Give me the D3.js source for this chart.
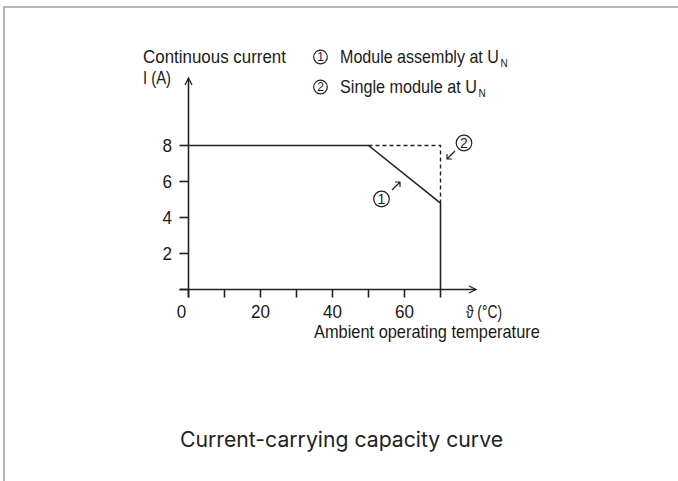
<!DOCTYPE html>
<html><head><meta charset="utf-8">
<script src="https://cdn.jsdelivr.net/npm/d3@7"></script>
<style>
html,body{margin:0;padding:0;background:#fff;}
svg{display:block;}
</style></head>
<body>
<svg id="c" width="678" height="481"></svg>
<script>
// Data
const xTicks = [0, 10, 20, 30, 40, 50, 60, 70];
const xTickLabels = [0, 20, 40, 60];
const yTicks = [0, 2, 4, 6, 8];
const yTickLabels = [2, 4, 6, 8];
const curve1Temp = [0, 50, 70, 70];       // module assembly
const curve1Current = [8, 8, 4.8, 0];
const curve2Temp = [50, 70, 70];          // single module (dashed)
const curve2Current = [8, 8, 4.8];
const legendItems = ["Module assembly at U", "Single module at U"];

const svg = d3.select("#c");
const condensed = "'Liberation Sans', Arial, sans-serif";

// frame border
svg.append("path").attr("d","M4,481 L4,7 L678,7").attr("fill","none").attr("stroke","#b3b6b9").attr("stroke-width",2);

const x = d3.scaleLinear().domain([0,70]).range([188.5,440.5]);
const y = d3.scaleLinear().domain([0,8]).range([289.5,145.5]);

const g = svg.append("g").attr("stroke","#222").attr("fill","none").attr("stroke-width",1.6);

// y axis
g.append("line").attr("x1",x(0)).attr("x2",x(0)).attr("y1",y(0)+8).attr("y2",79);
g.append("path").attr("d",`M${x(0)-3.5},85 L${x(0)},78 L${x(0)+3.5},85`).attr("stroke-width",1.3);
// x axis
g.append("line").attr("x1",x(0)-9).attr("x2",476).attr("y1",y(0)).attr("y2",y(0));
g.append("path").attr("d",`M469,${y(0)-3.5} L476,${y(0)} L469,${y(0)+3.5}`).attr("stroke-width",1.3);

// ticks
g.selectAll(".xt").data(xTicks).enter().append("line")
  .attr("x1",d=>x(d)).attr("x2",d=>x(d)).attr("y1",y(0)).attr("y2",y(0)+8);
g.selectAll(".yt").data(yTicks).enter().append("line")
  .attr("x1",x(0)-9).attr("x2",x(0)).attr("y1",d=>y(d)).attr("y2",d=>y(d));

// curves
const line = d3.line().x(d=>x(d[0])).y(d=>y(d[1]));
g.append("path").datum(curve2Temp.map((t,i)=>[t,curve2Current[i]]))
  .attr("d",line).attr("stroke-dasharray","4,3").attr("stroke-width",1.4);
g.append("path").datum(curve1Temp.map((t,i)=>[t,curve1Current[i]]))
  .attr("d",line);

// annotation arrows
g.append("path").attr("d","M392,190 L400,182 M395,182 L400,182 L400,187").attr("stroke-width",1.2);
g.append("path").attr("d","M455,151 L447,159 M447,154 L447,159 L452,159").attr("stroke-width",1.2);

// circled-number markers (drawn as circle + digit)
function circled(cx, cy, n, r, fs){
  svg.append("circle").attr("cx",cx).attr("cy",cy).attr("r",r)
    .attr("fill","none").attr("stroke","#222").attr("stroke-width",1.2);
  svg.append("text").attr("x",cx).attr("y",cy+fs*0.36).attr("text-anchor","middle")
    .attr("font-family","'Liberation Sans', Arial, sans-serif").attr("font-size",fs).attr("fill","#1a1a1a").text(n);
}

const t = svg.append("g").attr("font-family",condensed).attr("fill","#1a1a1a").attr("font-size",18);

// condensed text: natural text scaled horizontally to a target width
function ctext(xp, yp, s, w, anchor){
  const e = t.append("text").attr("x",0).attr("y",0).text(s);
  const nat = e.node().getComputedTextLength();
  const k = w ? w / nat : 1;
  const left = anchor === "middle" ? xp - (w||nat)/2 : anchor === "end" ? xp - (w||nat) : xp;
  e.attr("transform",`translate(${left},${yp}) scale(${k},1)`);
  return e;
}

// tick labels
xTickLabels.forEach(d => {
  const w = String(d).length*9.5;
  ctext(d===0 ? x(d)-7 : x(d), 318, String(d), w, "middle");
});
yTickLabels.forEach(d => ctext(172, y(d)+6.5, String(d), 9.5, "end"));

ctext(466, 318, "\u03D1 (\u00B0C)", 36);
ctext(314, 338, "Ambient operating temperature", 226);
ctext(143, 63, "Continuous current", 143);
ctext(143, 84, "I (A)", 28);

// legend
const legendW = [159, 137];
legendItems.forEach((s,i)=>{
  const yy = i===0 ? 63 : 93;
  circled(320.5, yy-6, i+1, 6.8, 12);
  ctext(340, yy, s, legendW[i]);
  t.append("text").attr("x",340+legendW[i]+1.5).attr("y",yy+4).attr("font-size",10).text("N");
});

// circled numbers in chart
circled(381.5, 199, 1, 7.8, 14);
circled(464, 143, 2, 7.8, 14);

// title
svg.append("text").attr("x",341.5).attr("y",447).attr("text-anchor","middle")
  .attr("font-family","Inter, 'Noto Sans', sans-serif").attr("font-size",21).attr("fill","#222")
  .attr("textLength",323).attr("lengthAdjust","spacingAndGlyphs")
  .text("Current-carrying capacity curve");
</script>
</body></html>
